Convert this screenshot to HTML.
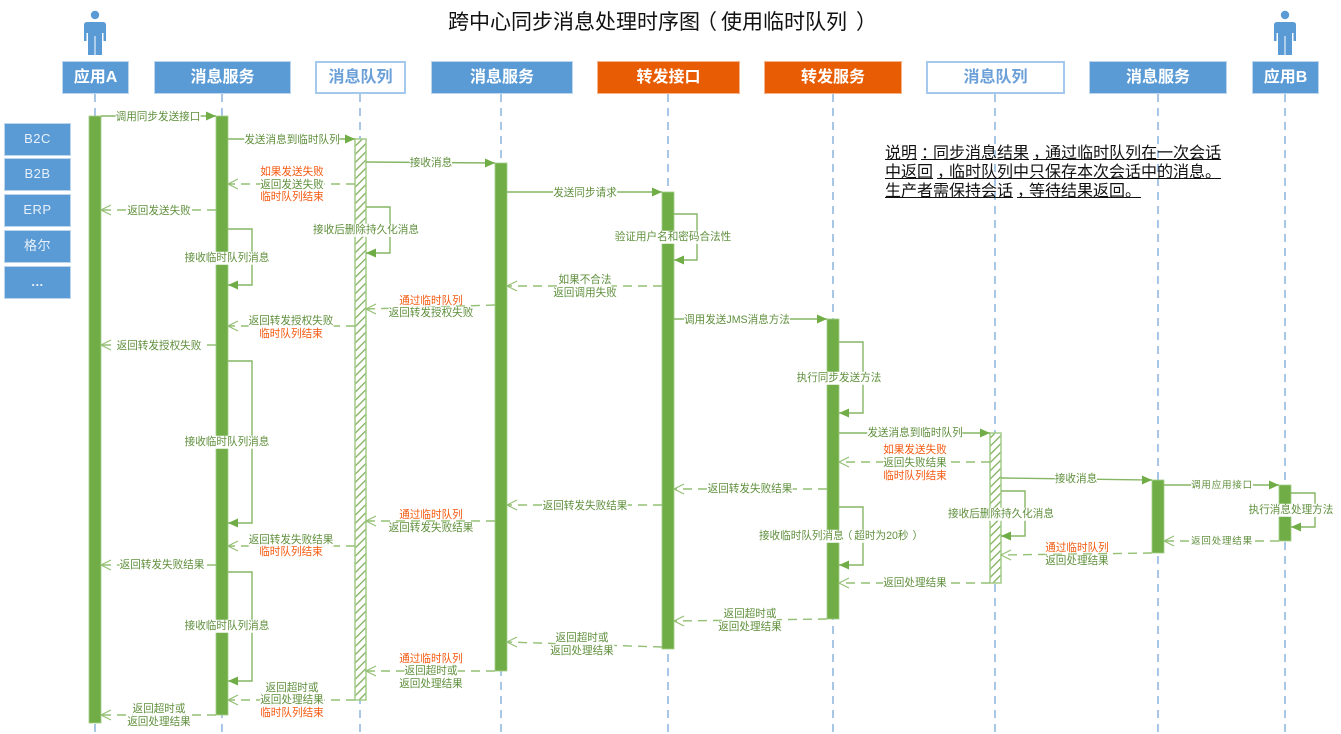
<!DOCTYPE html>
<html><head><meta charset="utf-8"><style>
html,body{margin:0;padding:0;background:#fff}
#p{position:relative;width:1341px;height:734px;overflow:hidden;font-family:"Liberation Sans","Noto Sans CJK SC",sans-serif}
svg{position:absolute;left:0;top:0}
.h{position:absolute;top:61px;height:33px;line-height:31px;box-sizing:border-box;text-align:center;font-size:16px;font-weight:bold;color:#fff;background:#5b9bd5;border:1px solid #bcd6ee}
.w{background:#fff;color:#6a9fd8;border:2px solid #a5c9ec;line-height:29px}
.o{background:#e85d04;border-color:#f3b48c}
.s{position:absolute;left:4px;width:67px;height:33px;line-height:29px;box-sizing:border-box;background:#5b9bd5;border:1px solid #bcd6ee;color:#e8f1fa;text-align:center;font-size:13px;letter-spacing:.5px}
i{position:absolute;font-style:normal;font-size:10.6px;line-height:12.5px;white-space:nowrap;color:#5f8f3c;background:#fff;transform:translate(-50%,calc(-50% + 1px))}
i.r{color:#f4590f;background:transparent}
.t{position:absolute;left:448px;top:10px;font-size:21px;line-height:26px;color:#111;white-space:nowrap}
.n{position:absolute;left:885px;top:144px;font-size:16px;line-height:19px;color:#111;white-space:nowrap;text-decoration:underline}
u{text-decoration:none;position:relative}
</style></head><body><div id="p">
<svg width="1341" height="734" viewBox="0 0 1341 734">
<defs>
<pattern id="ha" width="5.8" height="5.8" patternUnits="userSpaceOnUse" patternTransform="rotate(45)"><rect width="5.8" height="5.8" fill="#fff"/><rect width="1.3" height="5.8" fill="#7fb05c"/></pattern>
</defs>
<g stroke="#6f9fd6" stroke-width="1.2" stroke-dasharray="8 6" fill="none">
<path d="M95 94V732M222 94V732M360 94V732M501 94V732M668 94V732M833 94V732M995 94V732M1158 94V732M1285 94V732"/>
</g>
<g fill="#5b9bd5">
<circle cx="95" cy="15" r="4.2"/><path d="M84 25q0-3 3-3h16q3 0 3 3v16h-2.500v-8h-1.500v22h-6.500v-19h-1v19h-6.500v-22h-1.500v8H84z"/>
<circle cx="1285" cy="15" r="4.200"/><path d="M1274 25q0-3 3-3h16q3 0 3 3v16h-2.500v-8h-1.500v22h-6.500v-19h-1v19h-6.500v-22h-1.500v8h-2.500z"/>
</g>
<g fill="#70ad47" stroke="#a3cc88" stroke-width=".8">
<rect x="89" y="116" width="12" height="607"/><rect x="216" y="116" width="12" height="599"/><rect x="495" y="163" width="12" height="508"/><rect x="662" y="192" width="12" height="457"/><rect x="827" y="319" width="12" height="300"/><rect x="1152" y="480" width="12" height="73"/><rect x="1279" y="485" width="12" height="56"/>
</g>
<g fill="url(#ha)" stroke="#a3cc88" stroke-width="1.500">
<rect x="355" y="139" width="11" height="561"/><rect x="990" y="433" width="11" height="150"/>
</g>
<g fill="none" stroke="#86b663" stroke-width="1.400">
<path d="M101 116H216M228 139H355M366 162L495 163M507 192H662M674 319H827M839 433H990M1001 478L1152 480M1164 485H1279"/>
<path d="M228 229H252V285H228M228 361H252V523H228M228 572H252V681H228M366 207H390V253H366M674 214H697V260H674M839 342H863V413H839M839 507H863V565H839M1001 491H1025V536H1001M1291 493H1315V527H1291"/>
</g>
<g fill="#70ad47">
<path d="M216 116l-10-4.500v9zM355 139l-10-4.500v9zM495 163l-10-4.500v9zM662 192l-10-4.500v9zM827 319l-10-4.500v9zM990 433l-10-4.500v9zM1152 480l-10-4.500v9zM1279 485l-10-4.500v9z"/>
<path d="M228 285l10-4.500v9zM228 523l10-4.500v9zM228 681l10-4.500v9zM366 253l10-4.500v9zM674 260l10-4.500v9zM839 413l10-4.500v9zM839 565l10-4.500v9zM1001 536l10-4.500v9zM1291 527l10-4.500v9z"/>
</g>
<g fill="none" stroke="#94c075" stroke-width="1.400" stroke-dasharray="9 6">
<path d="M355 184H228M216 210H101M662 286H507M495 305L366 309M355 326H228M216 345H101M827 489H674M662 505H507M495 521H366M355 546H228M216 565H101M990 462H839M990 583H839M1152 553L1001 555M1279 541H1164M827 619L674 621M662 647L507 642M495 671H366M355 700H228M216 715H101"/>
</g>
<g fill="none" stroke="#94c075" stroke-width="1.200">
<path d="M238 179l-10 5 10 5M111 205l-10 5 10 5M517 281l-10 5 10 5M376 304l-10 5 10 5M238 321l-10 5 10 5M111 340l-10 5 10 5M684 484l-10 5 10 5M517 500l-10 5 10 5M376 516l-10 5 10 5M238 541l-10 5 10 5M111 560l-10 5 10 5M849 457l-10 5 10 5M849 578l-10 5 10 5M1011 550l-10 5 10 5M1174 536l-10 5 10 5M684 616l-10 5 10 5M517 637l-10 5 10 5M376 666l-10 5 10 5M238 695l-10 5 10 5M111 710l-10 5 10 5"/>
</g>
</svg>
<div class="t">跨中心同步消息处理时序图<u style="left:-4px">（</u>使用临时队列<u style="left:9px">）</u></div>
<div class="h" style="left:62px;width:67px">应用A</div>
<div class="h" style="left:154px;width:137px">消息服务</div>
<div class="h w" style="left:315px;width:91px">消息队列</div>
<div class="h" style="left:431px;width:142px">消息服务</div>
<div class="h o" style="left:597px;width:143px">转发接口</div>
<div class="h o" style="left:764px;width:138px">转发服务</div>
<div class="h w" style="left:926px;width:139px">消息队列</div>
<div class="h" style="left:1089px;width:138px">消息服务</div>
<div class="h" style="left:1252px;width:67px">应用B</div>
<div class="s" style="top:123px">B2C</div>
<div class="s" style="top:158px">B2B</div>
<div class="s" style="top:194px">ERP</div>
<div class="s" style="top:230px">格尔</div>
<div class="s" style="top:266px;font-weight:bold">...</div>
<div class="n">说明<u style="left:4px">：</u>同步消息结果<u style="left:4px">，</u>通过临时队列在一次会话<br>中返回<u style="left:4px">，</u>临时队列中只保存本次会话中的消息。<br>生产者需保持会话<u style="left:4px">，</u>等待结果返回。</div>
<i style="left:158px;top:116px">调用同步发送接口</i>
<i style="left:292px;top:139px">发送消息到临时队列</i>
<i style="left:431px;top:162px">接收消息</i>
<i style="left:585px;top:192px">发送同步请求</i>
<i style="left:673px;top:236px">验证用户名和密码合法性</i>
<i style="left:585px;top:279px">如果不合法</i>
<i style="left:585px;top:292px">返回调用失败</i>
<i style="left:737px;top:319px">调用发送JMS消息方法</i>
<i style="left:839px;top:377px">执行同步发送方法</i>
<i style="left:915px;top:432px">发送消息到临时队列</i>
<i class="r" style="left:915px;top:449px">如果发送失败</i>
<i style="left:915px;top:462px">返回失败结果</i>
<i class="r" style="left:915px;top:475px">临时队列结束</i>
<i style="left:750px;top:488px">返回转发失败结果</i>
<i style="left:585px;top:505px">返回转发失败结果</i>
<i class="r" style="left:431px;top:514px">通过临时队列</i>
<i style="left:431px;top:527px">返回转发失败结果</i>
<i style="left:291px;top:539px">返回转发失败结果</i>
<i class="r" style="left:291px;top:551px">临时队列结束</i>
<i style="left:162px;top:564px">返回转发失败结果</i>
<i style="left:227px;top:625px">接收临时队列消息</i>
<i style="left:292px;top:687px">返回超时或</i>
<i style="left:292px;top:699px">返回处理结果</i>
<i class="r" style="left:292px;top:712px">临时队列结束</i>
<i style="left:159px;top:708px">返回超时或</i>
<i style="left:159px;top:721px">返回处理结果</i>
<i class="r" style="left:431px;top:658px">通过临时队列</i>
<i style="left:431px;top:670px">返回超时或</i>
<i style="left:431px;top:683px">返回处理结果</i>
<i style="left:582px;top:637px">返回超时或</i>
<i style="left:582px;top:650px">返回处理结果</i>
<i style="left:750px;top:613px">返回超时或</i>
<i style="left:750px;top:626px">返回处理结果</i>
<i style="left:839px;top:535px">接收临时队列消息<u style="left:-2px">（</u>超时为20秒<u style="left:4px">）</u></i>
<i style="left:915px;top:582px">返回处理结果</i>
<i style="left:1076px;top:478px">接收消息</i>
<i style="left:1001px;top:513px">接收后删除持久化消息</i>
<i class="r" style="left:1077px;top:547px">通过临时队列</i>
<i style="left:1077px;top:560px">返回处理结果</i>
<i style="left:1222px;top:485px;font-size:9.500px;letter-spacing:.8px">调用应用接口</i>
<i style="left:1291px;top:509px">执行消息处理方法</i>
<i style="left:1222px;top:541px;font-size:9.500px;letter-spacing:.8px">返回处理结果</i>
<i style="left:366px;top:229px">接收后删除持久化消息</i>
<i style="left:227px;top:257px">接收临时队列消息</i>
<i style="left:227px;top:441px">接收临时队列消息</i>
<i class="r" style="left:292px;top:171px">如果发送失败</i>
<i style="left:292px;top:184px">返回发送失败</i>
<i class="r" style="left:292px;top:196px">临时队列结束</i>
<i style="left:159px;top:210px">返回发送失败</i>
<i class="r" style="left:431px;top:300px">通过临时队列</i>
<i style="left:431px;top:312px">返回转发授权失败</i>
<i style="left:291px;top:320px">返回转发授权失败</i>
<i class="r" style="left:291px;top:333px">临时队列结束</i>
<i style="left:159px;top:345px">返回转发授权失败</i>
</div></body></html>
